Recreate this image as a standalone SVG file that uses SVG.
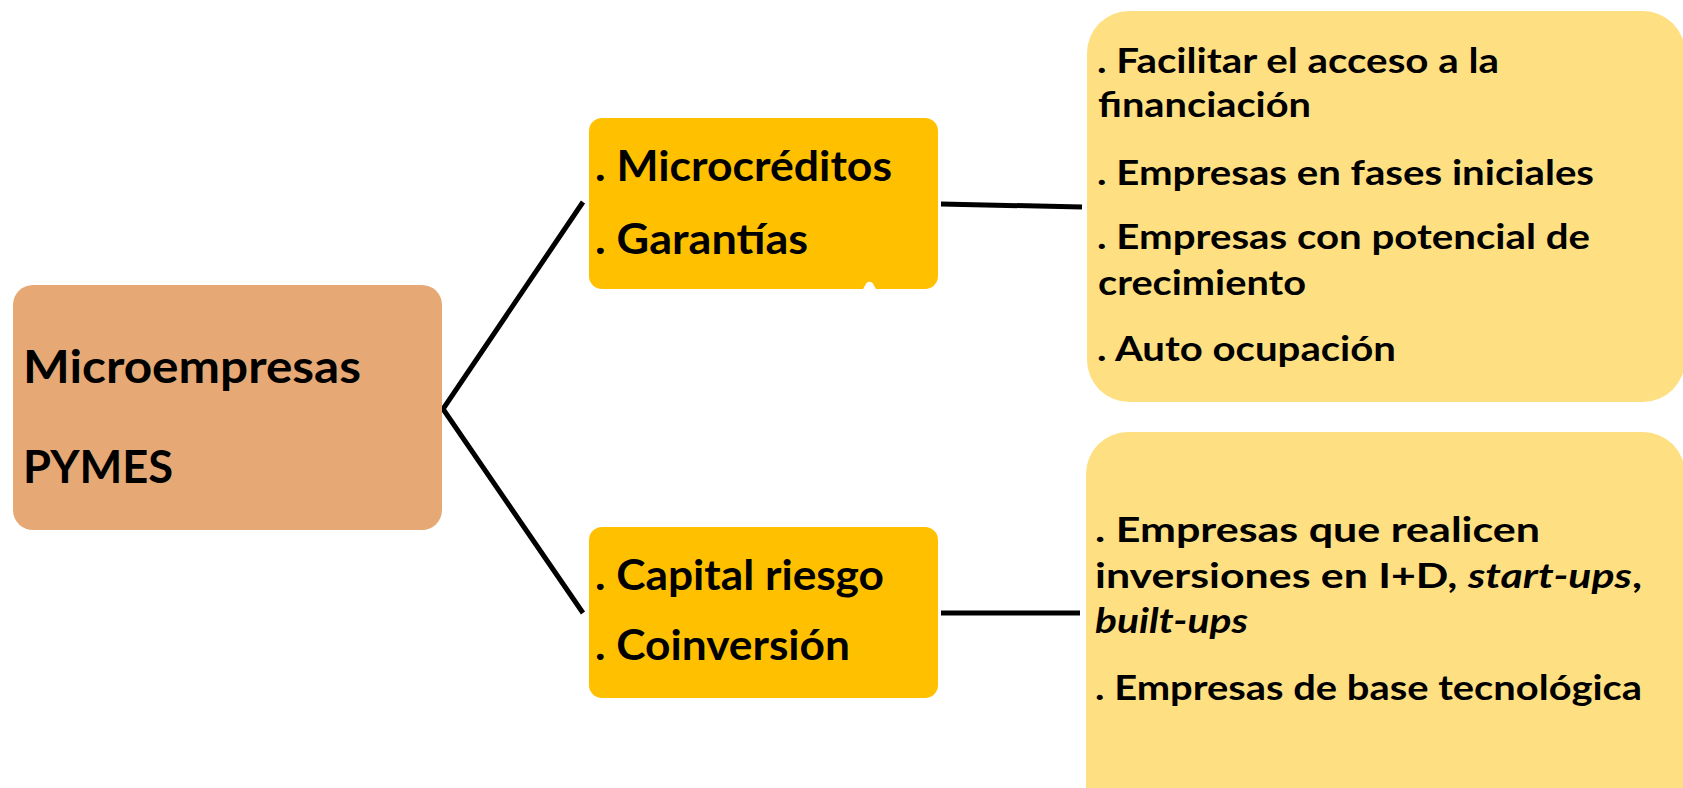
<svg xmlns="http://www.w3.org/2000/svg" width="1683" height="788" viewBox="0 0 1683 788">
<style>
.t{font-family:Lato,"Open Sans","Liberation Sans",sans-serif;font-weight:700;fill:#000}
.it{font-style:italic}
.con{fill:none;stroke:#000;stroke-width:5}
</style>
<rect width="1683" height="788" fill="#fff"/>
<g id="connectors">
<polyline class="con" points="583,202 443,409 583,613"/>
<line class="con" x1="941" y1="204" x2="1082" y2="207"/>
<line class="con" x1="941" y1="613" x2="1080" y2="613"/>
</g>
<g id="node-root">
<rect x="13" y="285" width="429" height="245" rx="20" fill="#E6A975"/>
<text class="t" x="23" y="383" font-size="46" textLength="338" lengthAdjust="spacingAndGlyphs">Microempresas</text>
<text class="t" x="23" y="483" font-size="46" textLength="150" lengthAdjust="spacingAndGlyphs">PYMES</text>
</g>
<g id="node-micro">
<rect x="589" y="118" width="349" height="171" rx="13" fill="#FFC000"/>
<path d="M863,289 L866.5,283 Q869.5,280.5 872.5,283 L876,289 Z" fill="#fff"/>
<text class="t" x="595" y="181" font-size="42" textLength="297" lengthAdjust="spacingAndGlyphs">. Microcréditos</text>
<text class="t" x="595" y="254" font-size="42" textLength="213" lengthAdjust="spacingAndGlyphs">. Garantías</text>
</g>
<g id="node-capital">
<rect x="589" y="527" width="349" height="171" rx="13" fill="#FFC000"/>
<text class="t" x="595" y="590" font-size="42" textLength="289" lengthAdjust="spacingAndGlyphs">. Capital riesgo</text>
<text class="t" x="595" y="660" font-size="42" textLength="255" lengthAdjust="spacingAndGlyphs">. Coinversión</text>
</g>
<g id="node-targets-1">
<rect x="1087" y="11" width="598" height="391" rx="42" fill="#FEE083"/>
<text class="t" x="1097" y="73" font-size="35" textLength="402" lengthAdjust="spacingAndGlyphs">. Facilitar el acceso a la</text>
<text class="t" x="1098" y="117" font-size="35" textLength="213" lengthAdjust="spacingAndGlyphs">financiación</text>
<text class="t" x="1097" y="185" font-size="35" textLength="497" lengthAdjust="spacingAndGlyphs">. Empresas en fases iniciales</text>
<text class="t" x="1097" y="249" font-size="35" textLength="493" lengthAdjust="spacingAndGlyphs">. Empresas con potencial de</text>
<text class="t" x="1098" y="295" font-size="35" textLength="208" lengthAdjust="spacingAndGlyphs">crecimiento</text>
<text class="t" x="1097" y="361" font-size="35" textLength="299" lengthAdjust="spacingAndGlyphs">. Auto ocupación</text>
</g>
<g id="node-targets-2">
<rect x="1086" y="432" width="599" height="400" rx="42" fill="#FEE083"/>
<text class="t" x="1095" y="542" font-size="35" textLength="445" lengthAdjust="spacingAndGlyphs">. Empresas que realicen</text>
<text class="t" x="1095" y="588" font-size="35" textLength="547" lengthAdjust="spacingAndGlyphs">inversiones en I+D<tspan class="it">, start-ups</tspan>,</text>
<text class="t it" x="1095" y="633" font-size="35" textLength="153" lengthAdjust="spacingAndGlyphs">built-ups</text>
<text class="t" x="1095" y="700" font-size="35" textLength="547" lengthAdjust="spacingAndGlyphs">. Empresas de base tecnológica</text>
</g>
</svg>
